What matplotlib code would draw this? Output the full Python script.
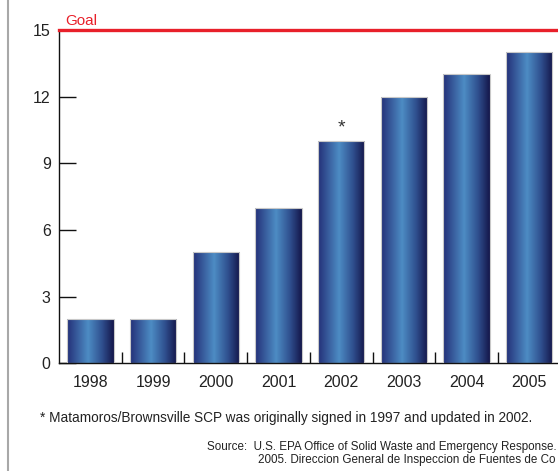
import numpy as np
import matplotlib
matplotlib.use("Agg")
import matplotlib.pyplot as plt
from matplotlib.colors import LinearSegmentedColormap
from matplotlib.lines import Line2D

plt.rcParams["font.family"] = ["Liberation Sans", "DejaVu Sans"]

years = ["1998", "1999", "2000", "2001", "2002", "2003", "2004", "2005"]
counts = [2, 2, 5, 7, 10, 12, 13, 14]
goal = 15
yticks = [0, 3, 6, 9, 12, 15]
marked_year = "2002"

footnote = "* Matamoros/Brownsville SCP was originally signed in 1997 and updated in 2002."
source_1 = "Source:  U.S. EPA Office of Solid Waste and Emergency Response."
source_2 = "2005. Direccion General de Inspeccion de Fuentes de Co"

RED = "#e8202a"
TXT = "#222222"

grad = LinearSegmentedColormap.from_list("bar", [
    (0.00, "#243078"),
    (0.45, "#4d8cc4"),
    (0.75, "#2f4f8e"),
    (1.00, "#14164a"),
])

fig = plt.figure(figsize=(5.58, 4.71), dpi=100)
W, H = 558, 471
x0, x1 = 59, 560.6
y0, y1 = 363.4, 30
ax = fig.add_axes([x0 / W, (H - y0) / H, (x1 - x0) / W, (y0 - y1) / H])

xs = np.arange(len(years))
bars = ax.bar(xs, counts, width=0.74, facecolor="none", edgecolor="#c8c8c8",
              linewidth=0.8, zorder=3)
g = np.linspace(0, 1, 256).reshape(1, -1)
for b in bars:
    im = ax.imshow(g, cmap=grad, aspect="auto", zorder=2,
                   extent=[b.get_x(), b.get_x() + b.get_width(), 0, b.get_height()])
    im.set_clip_path(b)

ax.set_xlim(-0.5, len(years) - 0.5)
ax.set_ylim(0, goal)

ax.axhline(goal, color=RED, lw=2.4, zorder=4, clip_on=False)
ax.text(-0.4, goal + 0.1, "Goal", color=RED, fontsize=11, va="bottom", ha="left")

i = years.index(marked_year)
ax.text(xs[i], counts[i] + 0.6, "*", color="#333333", fontsize=14, ha="center", va="center")

for s in ["top", "right"]:
    ax.spines[s].set_visible(False)
for s in ["left", "bottom"]:
    ax.spines[s].set_color("#111111")
    ax.spines[s].set_linewidth(1.0)

ax.set_xticks(xs)
ax.set_xticklabels(years)
ax.set_xticks(xs[:-1] + 0.5, minor=True)
ax.tick_params(axis="x", which="major", length=0, pad=8, labelsize=11.5, labelcolor=TXT)
ax.tick_params(axis="x", which="minor", direction="in", length=8, width=1, color="#111111")
ax.set_yticks(yticks)
ax.tick_params(axis="y", direction="in", length=12, width=1, color="#111111",
               pad=6, labelsize=11.5, labelcolor=TXT)

fig.text(40 / W, 1 - 418 / H, footnote, fontsize=9.8, color=TXT, va="center", ha="left")
fig.text(207 / W, 1 - 447 / H, source_1, fontsize=8.4, color=TXT, va="center", ha="left")
fig.text(258 / W, 1 - 460 / H, source_2, fontsize=8.4, color=TXT, va="center", ha="left")

fig.add_artist(Line2D([8 / W, 8 / W], [0, 1], color="#a8a8a8", lw=1.5))

fig.savefig("out.png", dpi=100)
